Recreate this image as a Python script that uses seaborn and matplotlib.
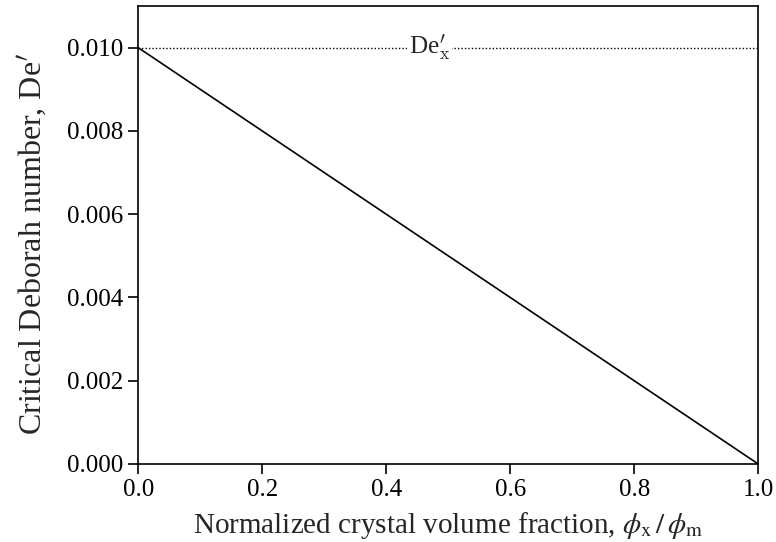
import numpy as np
import pandas as pd
import matplotlib
matplotlib.use("Agg")
import matplotlib.pyplot as plt
import seaborn as sns

# ─── Data ─────────────────────────────────────────────────────────────────────
phi_ratio = [0.0, 1.0]
de_crit = [0.010, 0.000]
de_x = 0.010

x_ticks = [0.0, 0.2, 0.4, 0.6, 0.8, 1.0]
y_ticks = [0.000, 0.002, 0.004, 0.006, 0.008, 0.010]

sns.set_style("ticks")
plt.rcParams['font.family'] = ['Liberation Serif', 'DejaVu Serif']
plt.rcParams['mathtext.fontset'] = 'stix'

fig = plt.figure(figsize=(7.76, 5.42), dpi=100)
ax = fig.add_axes([0.178, 0.144, 0.799, 0.845])

df = pd.DataFrame({'phi': phi_ratio, 'de': de_crit})
sns.lineplot(data=df, x='phi', y='de', ax=ax, color='black', lw=1.2)

# horizontal dotted line for De_x'
ax.axhline(de_x, color='black', lw=1.0, ls=(0, (1, 1.5)), zorder=1)
ax.text(0.47, de_x, r"De$_\mathrm{x}^{\prime}$", fontsize=18, ha='center', va='center',
        math_fontfamily='cm',
        bbox=dict(facecolor='white', edgecolor='none', pad=1), zorder=3)

ax.set_xlim(0, 1)
ax.set_ylim(0, 0.011)
ax.set_xticks(x_ticks)
ax.set_yticks(y_ticks)
ax.set_xticklabels([f"{v:.1f}" for v in x_ticks])
ax.set_yticklabels([f"{v:.3f}" for v in y_ticks])
ax.tick_params(direction='out', length=7, width=1.2, labelsize=18, colors='black', pad=4)

for s in ax.spines.values():
    s.set_linewidth(1.2)
    s.set_color('black')

ax.set_xlabel(r"Normalized crystal volume fraction, $\phi_\mathrm{x}\,/\,\phi_\mathrm{m}$",
              fontsize=21, labelpad=6)
ax.set_ylabel(r"Critical Deborah number, De$^{\prime}$", fontsize=23,
              math_fontfamily='cm')
ax.yaxis.set_label_coords(-0.143, 0.48)

plt.savefig("out.png", dpi=100)
